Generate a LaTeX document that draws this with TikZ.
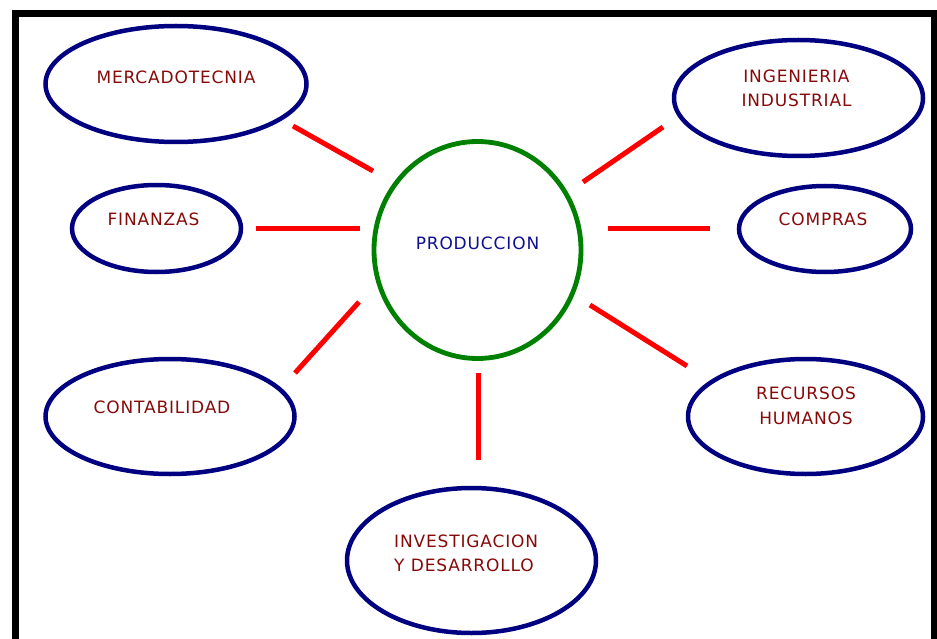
\documentclass[tikz,border=0pt]{standalone}
\usepackage{fontspec}
\setmainfont{DejaVu Sans}[LetterSpace=5]
\usetikzlibrary{shapes.geometric}
\definecolor{ovalblue}{RGB}{0,0,128}
\definecolor{txtred}{RGB}{135,10,10}
\definecolor{prodblue}{RGB}{15,15,145}
\definecolor{circgreen}{RGB}{0,128,0}
\definecolor{linkred}{RGB}{255,0,0}
\tikzset{
  oval/.style={ellipse, draw=ovalblue, line width=4.5pt, inner sep=0pt, fill=white},
  hub/.style={ellipse, draw=circgreen, line width=4.8pt, inner sep=0pt, fill=white},
  lbl/.style={text=txtred, font=\fontsize{17}{24.5}\selectfont, align=center, inner sep=0pt},
  hublbl/.style={text=prodblue, font=\fontsize{17}{24}\selectfont, inner sep=0pt},
  link/.style={draw=linkred, line width=5pt}
}
\begin{document}
\begin{tikzpicture}[x=1pt, y=-1pt]
\useasboundingbox (0,0) rectangle (937,639);
% frame
\fill[black] (12,10) rectangle (937,639);
\fill[white] (19,17) rectangle (931,639);
% ellipses
\node[hub, minimum width=207pt, minimum height=217pt] (prod) at (477.5,250) {};
\node[oval, minimum width=261pt, minimum height=116pt] (merc) at (176,84) {};
\node[oval, minimum width=249pt, minimum height=116pt] (ing) at (798.5,98) {};
\node[oval, minimum width=169pt, minimum height=87pt] (fin) at (156.5,228.5) {};
\node[oval, minimum width=172pt, minimum height=86pt] (comp) at (825,229) {};
\node[oval, minimum width=249pt, minimum height=115pt] (cont) at (170,416.5) {};
\node[oval, minimum width=235pt, minimum height=115pt] (rh) at (805.5,416.5) {};
\node[oval, minimum width=249pt, minimum height=145pt] (inv) at (471.5,560.5) {};
% texts
\node[hublbl] (tprod) at (477.5,243) {PRODUCCION};
\node[lbl] (tmerc) at (176,77) {MERCADOTECNIA};
\node[lbl] (ting) at (796.5,88.5) {INGENIERIA\\INDUSTRIAL};
\node[lbl] (tfin) at (153.5,219) {FINANZAS};
\node[lbl] (tcomp) at (823,219) {COMPRAS};
\node[lbl] (tcont) at (162,407) {CONTABILIDAD};
\node[lbl] (trh) at (806,406) {RECURSOS\\HUMANOS};
\node[lbl, align=left, anchor=west] (tinv) at (394,553.5) {INVESTIGACION\\Y DESARROLLO};
% connector end points
\coordinate (m1) at (293,126); \coordinate (m2) at (373,171);
\coordinate (f1) at (256,229); \coordinate (f2) at (360,229);
\coordinate (c1) at (295,373); \coordinate (c2) at (359,302);
\coordinate (v1) at (478.3,373); \coordinate (v2) at (478.3,460);
\coordinate (i1) at (583,182); \coordinate (i2) at (663,127);
\coordinate (p1) at (608,229); \coordinate (p2) at (710,229);
\coordinate (r1) at (590,305); \coordinate (r2) at (687,366);
\draw[link] (m1) -- (m2);
\draw[link] (f1) -- (f2);
\draw[link] (c1) -- (c2);
\draw[link] (v1) -- (v2);
\draw[link] (i1) -- (i2);
\draw[link] (p1) -- (p2);
\draw[link] (r1) -- (r2);
\end{tikzpicture}
\end{document}
